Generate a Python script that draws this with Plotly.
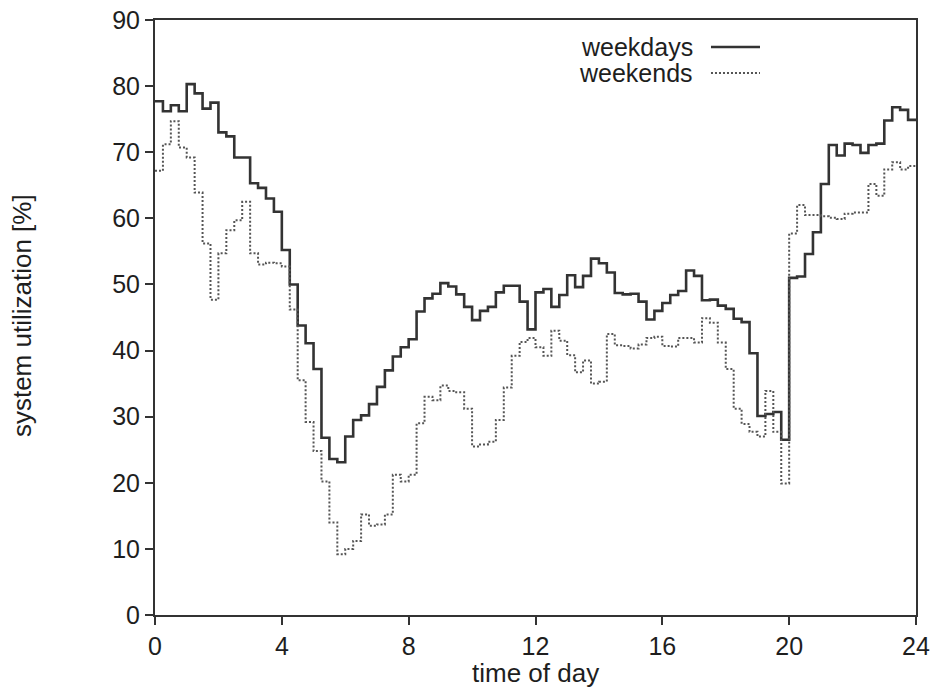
import plotly.graph_objects as go

# quarter-hour bins over the day (start of each 15-minute interval)
bin_width_h = 0.25
weekdays = [
    77.7, 76.2, 77.1, 76.2, 80.3, 78.9, 76.6, 77.5, 73.0, 72.4, 69.2, 69.2, 65.3, 64.6, 63.0, 61.0,
    55.2, 50.0, 43.8, 41.1, 37.2, 26.8, 23.6, 23.1, 27.0, 29.5, 30.2, 31.9, 34.5, 37.0, 39.1, 40.5,
    41.7, 45.9, 47.9, 48.6, 50.2, 49.7, 48.5, 46.6, 44.6, 46.0, 46.6, 48.8, 49.8, 49.8, 47.4, 43.2,
    48.8, 49.3, 46.6, 48.4, 51.4, 49.6, 51.3, 53.9, 53.2, 51.8, 48.7, 48.5, 48.6, 47.4, 44.7, 46.0,
    47.2, 48.4, 49.0, 52.1, 51.3, 47.6, 47.7, 46.8, 46.3, 44.8, 44.3, 39.6, 30.1, 30.4, 30.7, 26.5,
    51.0, 51.2, 54.6, 57.9, 65.2, 71.1, 69.5, 71.3, 71.1, 69.9, 71.1, 71.3, 74.8, 76.8, 76.4, 74.9,
]
weekends = [
    67.2, 71.2, 74.7, 70.7, 69.2, 63.9, 56.2, 47.7, 54.7, 58.2, 59.7, 62.5, 54.7, 53.0, 53.3, 53.2,
    52.7, 46.2, 35.5, 29.2, 24.8, 20.2, 14.0, 9.2, 10.0, 11.2, 15.2, 13.5, 13.7, 15.2, 21.2, 20.2,
    21.2, 29.0, 33.0, 32.5, 34.7, 33.9, 33.7, 31.2, 25.5, 25.8, 26.2, 29.5, 34.4, 39.2, 41.3, 41.9,
    40.5, 39.2, 43.0, 41.5, 39.3, 36.7, 38.5, 35.0, 35.3, 42.5, 40.8, 40.7, 40.3, 40.9, 41.9, 42.1,
    40.7, 40.6, 41.9, 41.9, 41.2, 44.9, 44.2, 41.2, 37.2, 31.2, 28.9, 27.7, 27.0, 33.9, 27.7, 19.9,
    57.7, 62.0, 60.5, 60.5, 60.3, 60.1, 59.9, 60.7, 60.9, 60.9, 65.2, 63.4, 67.4, 68.5, 67.4, 67.9,
]
x_ticks = [0, 4, 8, 12, 16, 20, 24]
y_ticks = [0, 10, 20, 30, 40, 50, 60, 70, 80, 90]
series_names = ["weekdays", "weekends"]

bin_starts = [i * bin_width_h for i in range(len(weekdays) + 1)]

FONT = "Liberation Sans, Arial, Helvetica, sans-serif"
INK = "#1e1e1e"

fig = go.Figure()
fig.add_trace(go.Scatter(
    x=bin_starts, y=weekdays + [weekdays[-1]], mode="lines", line_shape="hv",
    line=dict(color="#333333", width=2.6), name=series_names[0], showlegend=False,
))
fig.add_trace(go.Scatter(
    x=bin_starts, y=weekends + [weekends[-1]], mode="lines", line_shape="hv",
    line=dict(color="#555555", width=2, dash="2px,2px"), name=series_names[1], showlegend=False,
))

# legend drawn as text followed by line sample (as in the original)
leg_rows = [(0.9546, "solid", "#333333", 2.6), (0.911, "2px,2px", "#555555", 2)]
for name, (ypos, dash, col, w) in zip(series_names, leg_rows):
    fig.add_annotation(x=0.7096, y=ypos, xref="paper", yref="paper", text=name,
                       showarrow=False, xanchor="right", yanchor="middle",
                       font=dict(family=FONT, size=25, color=INK))
    fig.add_shape(type="line", xref="paper", yref="paper", x0=0.7306, x1=0.795,
                  y0=ypos, y1=ypos, line=dict(color=col, width=w, dash=dash))

fig.add_annotation(x=0.5, y=-0.097, xref="paper", yref="paper", text="time of day",
                   showarrow=False, xanchor="center", yanchor="middle",
                   font=dict(family=FONT, size=26, color=INK))
fig.add_annotation(x=-0.1748, y=0.504, xref="paper", yref="paper", text="system utilization [%]",
                   textangle=-90, showarrow=False, xanchor="center", yanchor="middle",
                   font=dict(family=FONT, size=26, color=INK))

axis_common = dict(showline=True, linecolor="#333333", linewidth=2, mirror=True,
                   ticks="outside", ticklen=8, tickwidth=2, tickcolor="#333333",
                   showgrid=False, zeroline=False, automargin=False,
                   tickfont=dict(family=FONT, size=25, color=INK))
fig.update_xaxes(range=[0, 24], tickvals=x_ticks, ticktext=[str(v) for v in x_ticks], **axis_common)
fig.update_yaxes(range=[0, 90], tickvals=y_ticks, ticktext=[str(v) for v in y_ticks], **axis_common)

fig.update_layout(
    width=934, height=687,
    margin=dict(l=155, r=18, t=20, b=72, autoexpand=False),
    plot_bgcolor="white", paper_bgcolor="white",
    showlegend=False,
)
fig.write_html("out.html", config={"displayModeBar": False},
               post_script="document.body.style.margin='0px';")
